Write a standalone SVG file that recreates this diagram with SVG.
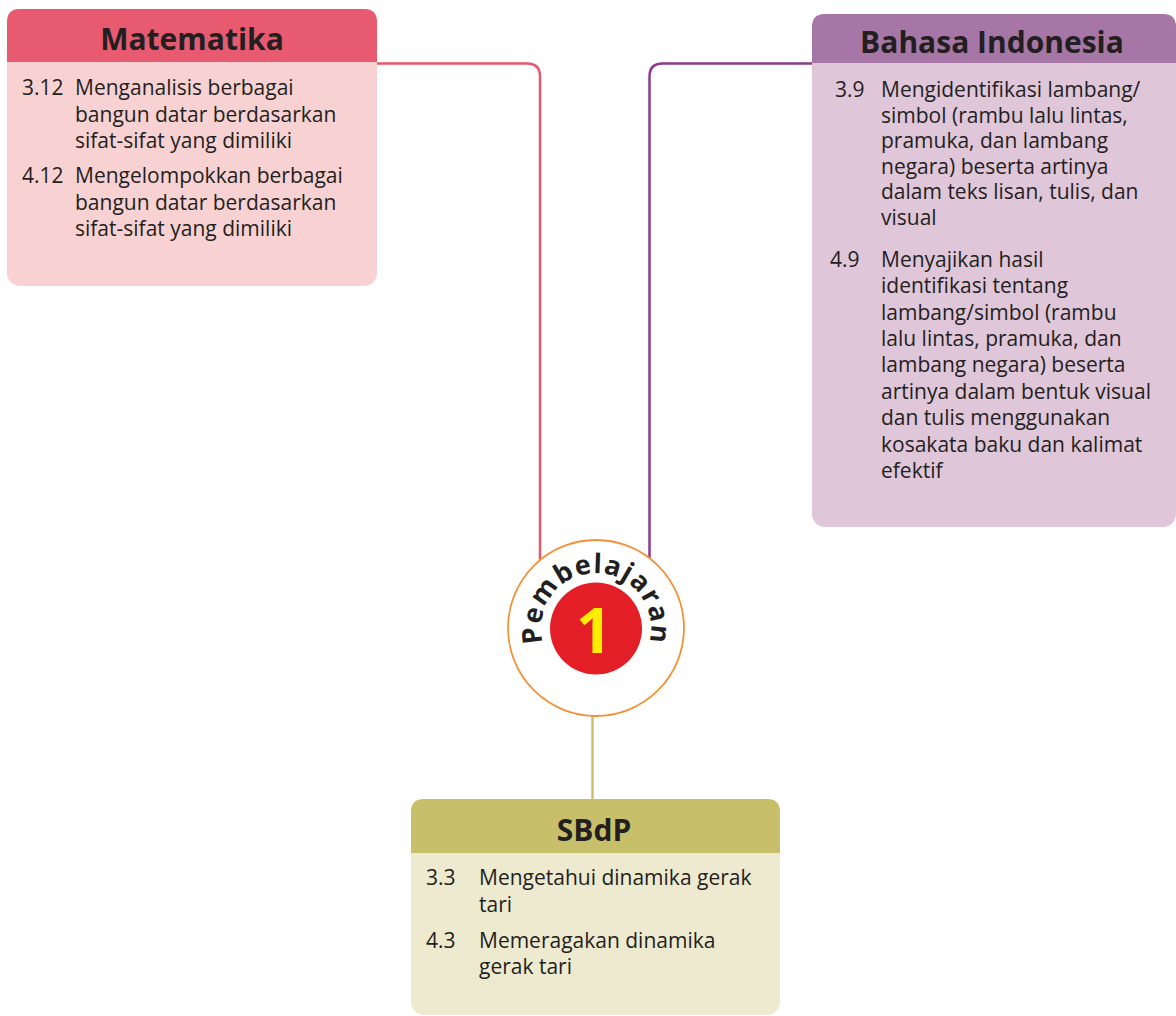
<svg xmlns="http://www.w3.org/2000/svg" width="1176" height="1016" viewBox="0 0 1176 1016">
<defs>
<style>
.body{font-family:"Open Sans","Noto Sans","DejaVu Sans",sans-serif;font-size:21px;fill:#231F20}
.title{font-family:"Open Sans","Noto Sans","DejaVu Sans",sans-serif;font-size:30px;font-weight:700;fill:#231F20;text-anchor:middle}
.conn{fill:none;stroke-width:2.5}
.arctext{font-family:"Open Sans","Noto Sans","DejaVu Sans",sans-serif;font-size:27px;font-weight:700;fill:#231F20;letter-spacing:1.2px}
</style>
<path id="arc" d="M 544.3 646.8 A 55 55 0 1 1 647.7 646.8"/>
</defs>
<rect width="1176" height="1016" fill="#FFFFFF"/>
<g id="connectors">
<path class="conn" stroke="#E8566E" d="M 376 63.5 H 527 Q 540 63.5 540 76.5 V 600"/>
<path class="conn" stroke="#8B3A8F" d="M 813 63.5 H 662.5 Q 649.5 63.5 649.5 76.5 V 600"/>
<path class="conn" stroke="#C8C070" d="M 592.5 690 V 800"/>
</g>
<g id="matematika">
<rect x="7" y="9" width="370" height="277" rx="13" fill="#F8D2D2"/>
<path d="M 7 62 V 22 Q 7 9 20 9 H 364 Q 377 9 377 22 V 62 Z" fill="#E85A70"/>
<text class="title" x="192" y="50">Matematika</text>
<text class="body"><tspan x="22" y="95">3.12</tspan><tspan x="75" y="95">Menganalisis berbagai</tspan><tspan x="75" y="122">bangun datar berdasarkan</tspan><tspan x="75" y="148">sifat-sifat yang dimiliki</tspan><tspan x="22" y="183">4.12</tspan><tspan x="75" y="183">Mengelompokkan berbagai</tspan><tspan x="75" y="210">bangun datar berdasarkan</tspan><tspan x="75" y="236">sifat-sifat yang dimiliki</tspan></text>
</g>
<g id="bahasa-indonesia">
<rect x="812" y="14" width="364" height="513" rx="13" fill="#E0C6D9"/>
<path d="M 812 63 V 27 Q 812 14 825 14 H 1163 Q 1176 14 1176 27 V 63 Z" fill="#A576A6"/>
<text class="title" x="992" y="53">Bahasa Indonesia</text>
<text class="body"><tspan x="835" y="97">3.9</tspan><tspan x="881" y="97">Mengidentifikasi lambang/</tspan><tspan x="881" y="122.5">simbol (rambu lalu lintas,</tspan><tspan x="881" y="148">pramuka, dan lambang</tspan><tspan x="881" y="173.5">negara) beserta artinya</tspan><tspan x="881" y="199">dalam teks lisan, tulis, dan</tspan><tspan x="881" y="224.5">visual</tspan><tspan x="830" y="267">4.9</tspan><tspan x="881" y="267">Menyajikan hasil</tspan><tspan x="881" y="293">identifikasi tentang</tspan><tspan x="881" y="319.5">lambang/simbol (rambu</tspan><tspan x="881" y="346">lalu lintas, pramuka, dan</tspan><tspan x="881" y="372">lambang negara) beserta</tspan><tspan x="881" y="398.5">artinya dalam bentuk visual</tspan><tspan x="881" y="425">dan tulis menggunakan</tspan><tspan x="881" y="451.5">kosakata baku dan kalimat</tspan><tspan x="881" y="478">efektif</tspan></text>
</g>
<g id="sbdp">
<rect x="411" y="799" width="369" height="216" rx="13" fill="#EEEAD0"/>
<path d="M 411 853 V 812 Q 411 799 424 799 H 767 Q 780 799 780 812 V 853 Z" fill="#C8BF6A"/>
<text class="title" x="594" y="841">SBdP</text>
<text class="body"><tspan x="426" y="885">3.3</tspan><tspan x="479" y="885">Mengetahui dinamika gerak</tspan><tspan x="479" y="912">tari</tspan><tspan x="426" y="948">4.3</tspan><tspan x="479" y="948">Memeragakan dinamika</tspan><tspan x="479" y="974">gerak tari</tspan></text>
</g>
<g id="pembelajaran-1">
<circle cx="596" cy="628" r="88" fill="#FFFFFF" stroke="#F0923A" stroke-width="1.8"/>
<circle cx="596" cy="628.5" r="46" fill="#E31E27"/>
<text x="594" y="653" font-family="Open Sans, Noto Sans, sans-serif" font-size="63" font-weight="700" fill="#FFED00" text-anchor="middle">1</text>
<text class="arctext"><textPath href="#arc" startOffset="50%" text-anchor="middle">Pembelajaran</textPath></text>
</g>
</svg>
